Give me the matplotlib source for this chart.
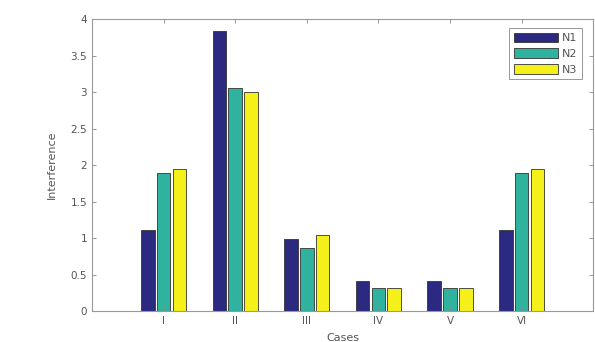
import numpy as np
import matplotlib.pyplot as plt

cases = ['I', 'II', 'III', 'IV', 'V', 'VI']
n1 = [1.11, 3.84, 0.99, 0.41, 0.41, 1.11]
n2 = [1.89, 3.05, 0.86, 0.32, 0.32, 1.89]
n3 = [1.95, 3.00, 1.04, 0.31, 0.31, 1.95]
series = [('N1', n1, '#2c2a80'), ('N2', n2, '#2fb39e'), ('N3', n3, '#f6f01a')]
yticks = [0, 0.5, 1, 1.5, 2, 2.5, 3, 3.5, 4]
ytick_labels = ['0', '0.5', '1', '1.5', '2', '2.5', '3', '3.5', '4']

fig = plt.figure(figsize=(5.95, 3.42), dpi=100)
ax = fig.add_axes([0.1546, 0.0906, 0.8424, 0.8538])

x = np.arange(1, len(cases) + 1)
w = 0.19
offsets = [-0.22, 0, 0.22]
for (name, vals, col), off in zip(series, offsets):
    ax.bar(x + off, vals, w, color=col, edgecolor='#333333', linewidth=0.6, label=name)

ax.set_xlim(0, 7)
ax.set_ylim(0, 4)
ax.set_xticks(x)
ax.set_xticklabels(cases)
ax.set_yticks(yticks)
ax.set_yticklabels(ytick_labels)
ax.tick_params(direction='in', top=True, right=True, length=3, width=0.6,
               colors='#888888', labelcolor='#555555', labelsize=7.5)
for s in ax.spines.values():
    s.set_color('#999999')
    s.set_linewidth(0.8)

ax.set_ylabel('Interference', fontsize=8, color='#555555', labelpad=10)
ax.set_xlabel('Cases', fontsize=8, color='#555555', labelpad=5)

leg = ax.legend(loc='upper right', bbox_to_anchor=(0.978, 0.968), fontsize=8,
                handlelength=4.0, handleheight=0.95, handletextpad=0.35,
                labelspacing=0.45, borderpad=0.4, borderaxespad=0,
                fancybox=False, framealpha=1)
leg.get_frame().set_edgecolor('#888888')
leg.get_frame().set_linewidth(0.6)
for t in leg.get_texts():
    t.set_color('#555555')

fig.savefig('out.png', dpi=100)
